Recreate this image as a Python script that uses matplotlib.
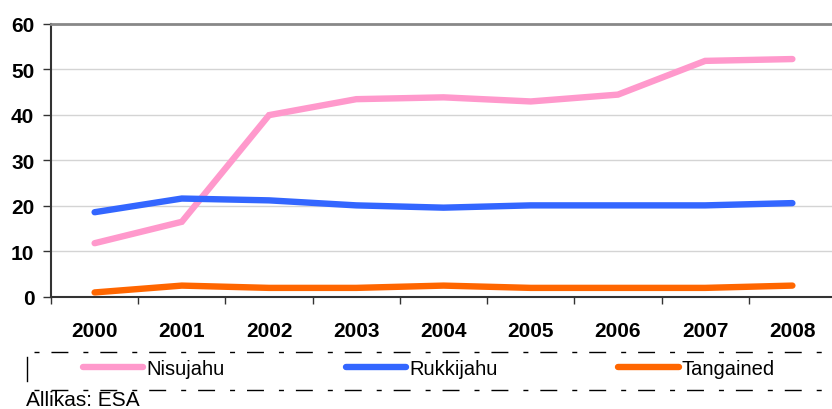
import matplotlib
matplotlib.use('Agg')
import matplotlib.pyplot as plt
from matplotlib.lines import Line2D

plt.rcParams['font.family'] = ['Liberation Sans', 'DejaVu Sans']

# data
years = ['2000', '2001', '2002', '2003', '2004', '2005', '2006', '2007', '2008']
nisujahu = [11.8, 16.5, 39.9, 43.4, 43.8, 42.9, 44.4, 51.8, 52.2]
rukkijahu = [18.6, 21.6, 21.2, 20.1, 19.6, 20.1, 20.1, 20.1, 20.6]
tangained = [1.0, 2.5, 2.0, 2.0, 2.5, 2.0, 2.0, 2.0, 2.5]

series_names = ['Nisujahu', 'Rukkijahu', 'Tangained']
colors = ['#FF99CC', '#3366FF', '#FF6600']
source = 'Allikas: ESA'

W, H = 832, 410
fig = plt.figure(figsize=(W / 100, H / 100), dpi=100)
ax = fig.add_axes([51 / W, 1 - 298 / H, 785 / W, (298 - 24.5) / H])

x = list(range(len(years)))
handles = []
for vals, name, c in zip([nisujahu, rukkijahu, tangained], series_names, colors):
    ln, = ax.plot(x, vals, color=c, lw=4.6, solid_capstyle='round',
                  solid_joinstyle='miter', label=name, zorder=3)
    handles.append(ln)

ax.set_xlim(-0.5, len(years) - 0.5)
ax.set_ylim(0, 60)
ax.set_yticks(range(0, 61, 10))
ax.set_yticklabels([str(v) for v in range(0, 61, 10)], fontsize=15, fontweight='bold')
ax.set_xticks(x)
ax.set_xticklabels(years, fontsize=15, fontweight='bold')
ax.set_xticks([i - 0.5 for i in range(len(years) + 1)], minor=True)
ax.tick_params(axis='x', which='major', length=0, pad=17)
ax.tick_params(axis='x', which='minor', length=5, width=1, color='#333333', direction='out')
ax.tick_params(axis='y', length=6, width=1, color='#333333', pad=6, direction='out')

for v in range(10, 60, 10):
    ax.axhline(v, color='#D4D4D4', lw=1, zorder=1)

ax.spines['right'].set_visible(False)
ax.spines['top'].set_color('#888888')
ax.spines['top'].set_linewidth(2)
ax.spines['left'].set_color('#333333')
ax.spines['left'].set_linewidth(1.5)
ax.spines['bottom'].set_color('#333333')
ax.spines['bottom'].set_linewidth(1.5)

# legend box made of dashed lines
dash = (0, (3.6, 8.6, 12.2, 10.8))
for yy in [353, 391]:
    fig.add_artist(Line2D([34 / W, 1], [1 - yy / H, 1 - yy / H], color='black',
                          lw=1, linestyle=dash, transform=fig.transFigure))
fig.add_artist(Line2D([27 / W, 27 / W], [1 - 358 / H, 1 - 382 / H], color='black',
                      lw=1, transform=fig.transFigure))

leg = fig.legend(handles=handles, labels=series_names, ncol=3, frameon=False,
                 loc='center left', bbox_to_anchor=(83 / W, 1 - 370 / H),
                 borderaxespad=0, borderpad=0, fontsize=14.5,
                 handlelength=3.0, handletextpad=0.15, columnspacing=6.0)

fig.text(26 / W, 1 - 401 / H, source, fontsize=15, va='center', ha='left')

fig.savefig('out.png', dpi=100)
